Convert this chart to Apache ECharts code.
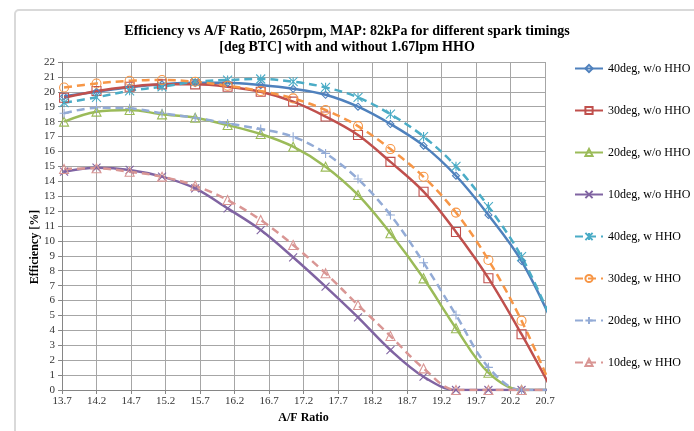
<!DOCTYPE html>
<html>
<head>
<meta charset="utf-8">
<script src="https://cdn.jsdelivr.net/npm/echarts@6/dist/echarts.min.js"></script>
<style>
html,body{margin:0;padding:0;background:#fff;}
#chart{width:694px;height:431px;}
</style>
</head>
<body>
<div id="chart"></div>
<script>
// A/F ratio of each measured point
var afr = [13.73, 14.20, 14.68, 15.15, 15.63, 16.10, 16.58, 17.05, 17.52, 17.99, 18.46, 18.94, 19.41, 19.88, 20.36, 20.83];

var names = ['40deg, w/o HHO', '30deg, w/o HHO', '20deg, w/o HHO', '10deg, w/o HHO',
             '40deg, w HHO', '30deg, w HHO', '20deg, w HHO', '10deg, w HHO'];

var eff40wo = [19.7, 20.0, 20.3, 20.5, 20.6, 20.6, 20.45, 20.2, 19.8, 19.0, 17.84, 16.39, 14.37, 11.74, 8.65, 4.29];
var eff30wo = [19.6, 20.05, 20.34, 20.5, 20.5, 20.34, 20.0, 19.34, 18.34, 17.1, 15.3, 13.3, 10.6, 7.5, 3.74, -0.25];
var eff20wo = [18.0, 18.67, 18.78, 18.49, 18.26, 17.77, 17.17, 16.32, 14.98, 13.08, 10.51, 7.49, 4.14, 1.16, 0, 0];
var eff10wo = [14.64, 14.91, 14.76, 14.31, 13.52, 12.18, 10.73, 8.9, 6.93, 4.87, 2.68, 0.89, 0, 0, 0, 0];
var eff40w  = [19.27, 19.63, 20.07, 20.34, 20.68, 20.79, 20.86, 20.68, 20.3, 19.63, 18.5, 17.0, 15.0, 12.3, 8.94, 4.32];
var eff30w  = [20.29, 20.56, 20.74, 20.79, 20.68, 20.41, 20.05, 19.56, 18.78, 17.7, 16.16, 14.3, 11.9, 8.72, 4.65, -0.2];
var eff20w  = [18.56, 18.93, 18.89, 18.56, 18.26, 17.88, 17.5, 16.99, 15.87, 14.15, 11.74, 8.54, 5.03, 1.52, 0, 0];
var eff10w  = [14.82, 14.87, 14.64, 14.31, 13.7, 12.74, 11.4, 9.73, 7.83, 5.7, 3.62, 1.45, 0, 0, 0, 0];

var values = [eff40wo, eff30wo, eff20wo, eff10wo, eff40w, eff30w, eff20w, eff10w];
var colors = ['#4F81BD', '#C0504D', '#9BBB59', '#8064A2', '#4BACC6', '#F79646', '#93ABD6', '#D99694'];
var dashed = [false, false, false, false, true, true, true, true];
var symbols = ['diamond', 'rect', 'triangle', 'path://M0,0L10,10M10,0L0,10',
               'path://M0,0L10,10M10,0L0,10M5,0L5,10', 'circle', 'path://M5,0L5,10M0,5L10,5', 'triangle'];
var symSizes = [7, 9, 9, 8, 9, 9, 9, 9];

var serif = '"Liberation Serif", "Times New Roman", serif';

var series = names.map(function (n, i) {
  return {
    name: n,
    type: 'line',
    data: afr.map(function (x, k) { return [x, values[i][k]]; }),
    smooth: 0.35,
    clip: true,
    symbol: symbols[i],
    symbolSize: symSizes[i],
    lineStyle: { color: colors[i], width: 2.5, type: dashed[i] ? [8, 5] : 'solid' },
    itemStyle: { color: 'rgba(255,255,255,0)', borderColor: colors[i], borderWidth: 1.1 },
    emphasis: { disabled: true }
  };
});

var chart = echarts.init(document.getElementById('chart'), null, { renderer: 'canvas' });
chart.setOption({
  animation: false,
  backgroundColor: '#fff',
  title: {
    text: 'Efficiency vs A/F Ratio, 2650rpm, MAP: 82kPa for different spark timings\n[deg BTC] with and without 1.67lpm HHO',
    left: 342,
    top: 19,
    textAlign: 'center',
    textStyle: { fontFamily: serif, fontWeight: 'bold', fontSize: 14, lineHeight: 15.5, color: '#000' }
  },
  graphic: [
    { type: 'rect', shape: { x: 15, y: 10, width: 700, height: 440, r: 4 }, style: { fill: 'none', stroke: '#d9d9d9', lineWidth: 2 }, silent: true, z: -1 },
    { type: 'text', x: 35, y: 247, rotation: Math.PI / 2,
      style: { text: 'Efficiency [%]', font: 'bold 12px ' + serif, fill: '#000', textAlign: 'center', textVerticalAlign: 'middle' } }
  ],
  legend: {
    orient: 'vertical',
    left: 569,
    top: 57.5,
    itemWidth: 28,
    itemHeight: 9,
    itemGap: 30,
    textStyle: { fontFamily: serif, fontSize: 12, color: '#000' },
    data: names
  },
  grid: { left: 62, right: 149, top: 62, bottom: 41 },
  xAxis: {
    type: 'value',
    min: 13.7,
    max: 20.7,
    interval: 0.5,
    name: 'A/F Ratio',
    nameLocation: 'middle',
    nameGap: 22,
    nameTextStyle: { fontFamily: serif, fontWeight: 'bold', fontSize: 12, color: '#000' },
    axisLine: { lineStyle: { color: '#868686' } },
    axisTick: { show: true, length: 4, lineStyle: { color: '#868686' } },
    axisLabel: { fontFamily: serif, fontSize: 11, color: '#333', margin: 6,
      formatter: function (v) { return v.toFixed(1); } },
    splitLine: { show: true, lineStyle: { color: '#a6a6a6', width: 1 } }
  },
  yAxis: {
    type: 'value',
    min: 0,
    max: 22,
    interval: 1,
    axisLine: { show: true, lineStyle: { color: '#868686' } },
    axisTick: { show: true, length: 4, lineStyle: { color: '#868686' } },
    axisLabel: { fontFamily: serif, fontSize: 11, color: '#333', margin: 7 },
    splitLine: { show: true, lineStyle: { color: '#a6a6a6', width: 1 } }
  },
  series: series
});
</script>
</body>
</html>
